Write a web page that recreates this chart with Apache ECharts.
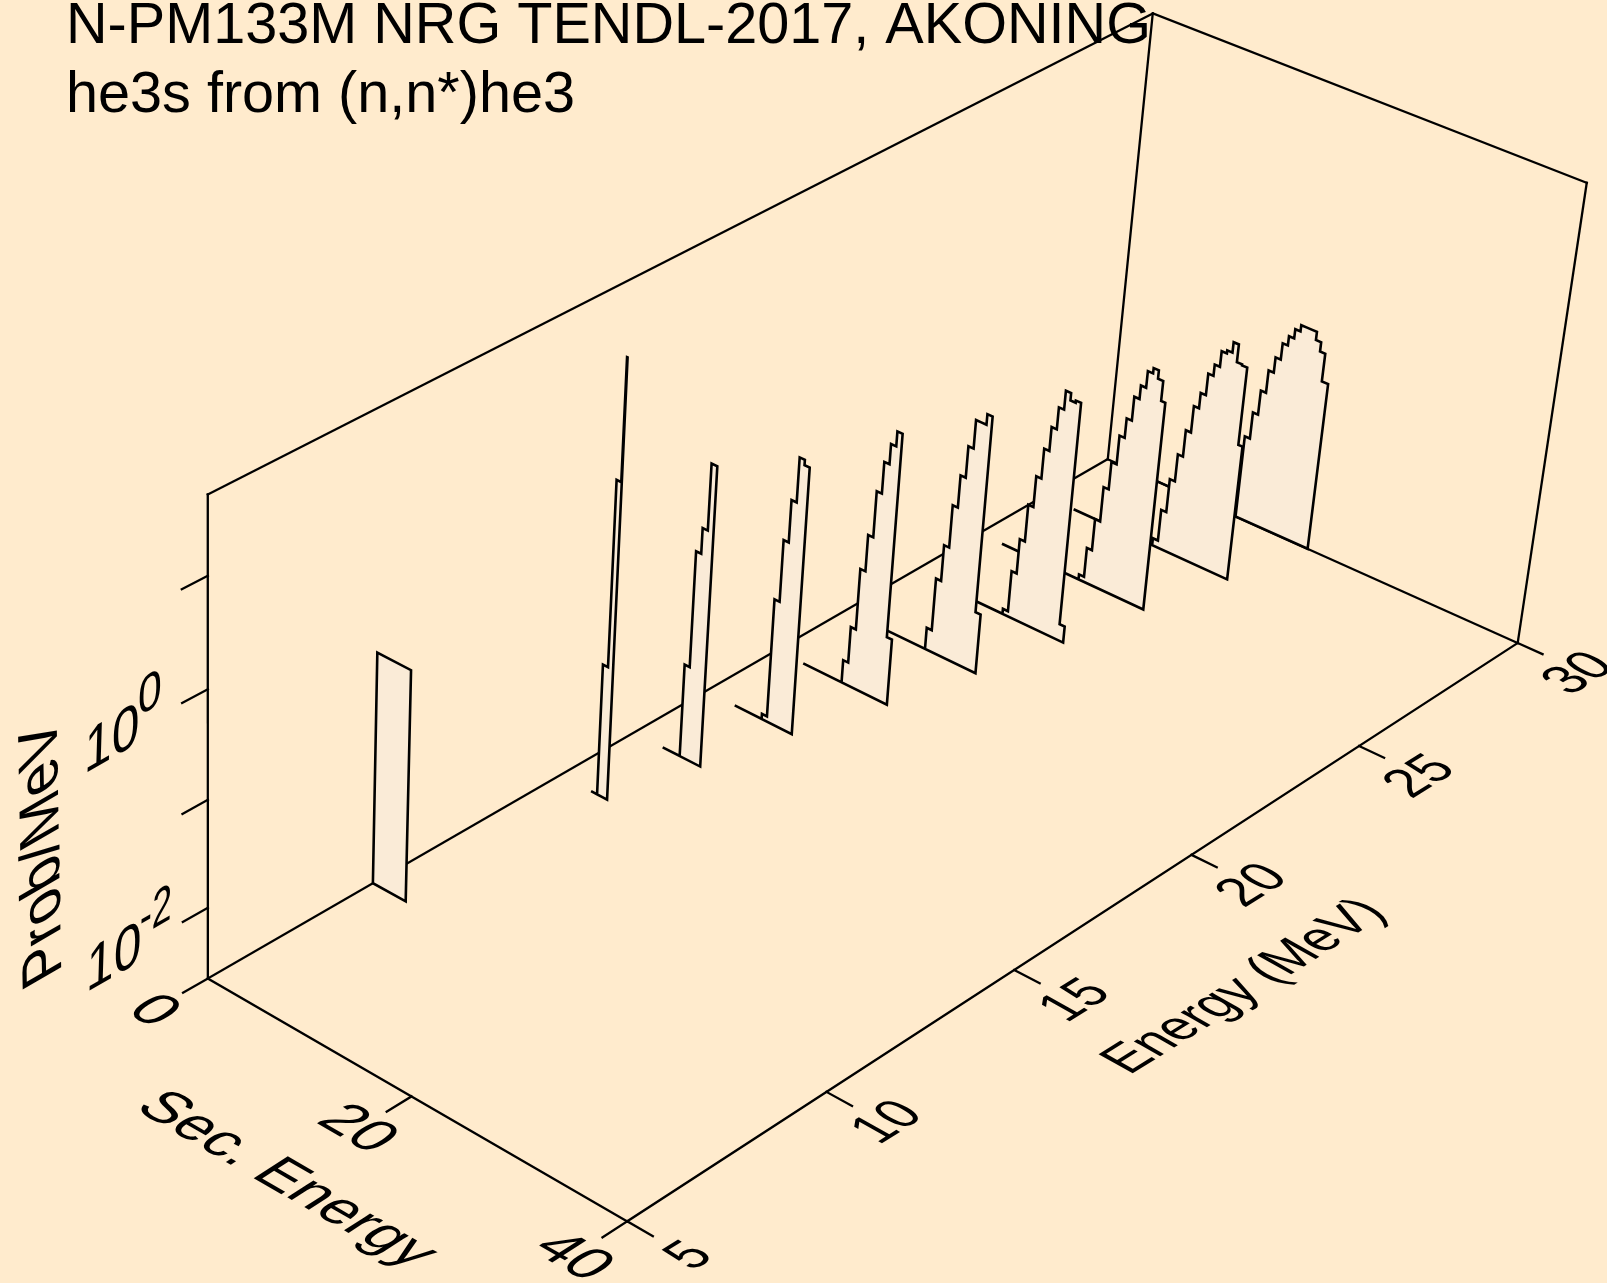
<!DOCTYPE html>
<html><head><meta charset="utf-8">
<script src="https://cdn.jsdelivr.net/npm/echarts@6/dist/echarts.min.js"></script>
<style>html,body{margin:0;padding:0;background:#FFEBCD}#c{width:1607px;height:1283px}</style>
</head><body><div id="c"></div><script>
// ---- data -------------------------------------------------------------
const titleLines = ['N-PM133M NRG TENDL-2017, AKONING', 'he3s from (n,n*)he3'];
const secTicks = [0, 20, 40];
const energyTicks = [5, 10, 15, 20, 25, 30];
const logProbTicks = [-2, -1, 0, 1];
const logProbLabels = [[-2, '10', '-2'], [0, '10', '0']];
const secRange = [0, 40], energyRange = [5, 30], logProbRange = [-2.67, 1.7];

// one spectrum per incident energy (MeV): sec.-energy bin edges and log10(prob/MeV)
const incidentEnergies = [30, 28, 26, 24, 22, 20, 18, 16, 14, 9.1];
const baselineStarts   = [ 3,  3, 2.3, 3, 2.7, 2.7, 2.9, 2.9, 3.1, 0];
const edgesE30 = [12.9,13.4,13.9,14.4,14.9,15.4,15.9,16.4,16.9,17.4,17.9,18.4,18.9,19.4,20];
const probE30  = [-1.86,-1.60,-1.36,-1.14,-0.99,-0.83,-0.74,-0.65,-0.59,-0.59,-0.59,-0.67,-0.76,-1.03];
const edgesE28 = [10.9,11.4,11.9,12.4,12.9,13.4,13.9,14.4,14.9,15.4,15.9,16.4,16.9,17.4,17.9,18.3];
const probE28  = [-2.60,-2.29,-1.96,-1.69,-1.43,-1.17,-1.02,-0.81,-0.70,-0.55,-0.52,-0.42,-0.59,-0.60,-1.35];
const edgesE26 = [10,10.5,11,11.5,12,12.5,13,13.5,14,14.5,15,15.5,16,16.4];
const probE26  = [-2.62,-2.33,-2.02,-1.68,-1.41,-1.13,-0.94,-0.71,-0.58,-0.42,-0.37,-0.45,-0.64];
const edgesE24 = [9,9.5,10,10.5,11,11.5,12,12.5,13,13.5,14,14.5,15];
const probE24  = [-2.62,-2.22,-1.88,-1.52,-1.22,-0.93,-0.70,-0.49,-0.31,-0.38,-0.36,-2.51];
const edgesE22 = [8,8.5,9,9.5,10,10.5,11,11.5,12,12.5,13];
const probE22  = [-2.46,-1.95,-1.60,-1.19,-0.88,-0.58,-0.31,-0.31,-0.21,-2.09];
const edgesE20 = [6.55,7.05,7.55,8.05,8.55,9.05,9.55,10.05,10.55,11.05];
const probE20  = [-2.45,-2.10,-1.51,-1.16,-0.72,-0.42,-0.23,-0.09,-2.03];
const edgesE18 = [5.6,6.1,6.6,7.1,7.6,8.1,8.6];
const probE18  = [-2.62,-1.48,-0.89,-0.49,-0.07,-0.12];
const edgesE16 = [4.6,5.1,5.6,6.1,6.65];
const probE16  = [-1.78,-0.68,-0.44,0.18];
const edgesE14 = [3.7,4.2,4.65,4.7];
const probE14  = [-1.42,0.32,1.44];
const edgesE9  = [0,3.3];
const probE9   = [-0.50];
const spectra = [[edgesE30,probE30],[edgesE28,probE28],[edgesE26,probE26],[edgesE24,probE24],[edgesE22,probE22],
                 [edgesE20,probE20],[edgesE18,probE18],[edgesE16,probE16],[edgesE14,probE14],[edgesE9,probE9]];

// ---- 3D -> plane projection (perspective camera of the plot) ------------
const cam = [0.38421,1.06025,-0.01143,0.20786, 0.17444,-0.45282,-0.51100,0.97846, -0.05603,0.14474,-0.05459];
const INK = '#000000', FILL = '#FAEBD7', FONT = '"Liberation Sans", Arial, Helvetica, sans-serif';
function proj(s, e, lp) {
  const u = (s - secRange[0]) / (secRange[1] - secRange[0]);
  const v = (e - energyRange[0]) / (energyRange[1] - energyRange[0]);
  const z = (lp - logProbRange[0]) / (logProbRange[1] - logProbRange[0]);
  const w = cam[8]*u + cam[9]*v + cam[10]*z + 1;
  return [(cam[0]*u + cam[1]*v + cam[2]*z + cam[3]) / w * 1000,
          (cam[4]*u + cam[5]*v + cam[6]*z + cam[7]) / w * 1000];
}
const [s0, s1] = secRange, [e0, e1] = energyRange, [z0, z1] = logProbRange;
const TICK_E = 0.6, TICK_S = 2.3;
const segments = [
  [[s0,e0,z0],[s0,e0,z1]], [[s0,e0,z1],[s0,e1,z1]], [[s0,e1,z1],[s1,e1,z1]], [[s1,e1,z1],[s1,e1,z0]],
  [[s0,e1,z1],[s0,e1,z0]], [[s0,e0,z0],[s0,e1,z0]], [[s0,e1,z0],[s1,e1,z0]],
  [[s0,e0,z0],[s1,e0,z0]], [[s1,e0,z0],[s1,e1,z0]],
];
secTicks.forEach(s => segments.push([[s,e0,z0],[s,e0-TICK_E,z0]]));
energyTicks.forEach(e => segments.push([[s1,e,z0],[s1+TICK_S,e,z0]]));
logProbTicks.forEach(l => segments.push([[s0,e0,l],[s0,e0-TICK_E,l]]));

// sheared text lying in the planes of the box: baseline dir, up dir, and em sizes along them
const FS = 50;
const DIR_SEC  = {b:[0.866,0.50], u:[0.84,-0.54], fb:59, fu:59};
const DIR_ENER = {b:[0.848,-0.53], u:[-0.87,-0.49], fb:49.5, fu:57};
const DIR_Z    = {b:[0.87,-0.50], u:[0.03,-1.00], fb:57, fu:62};
const DIR_ZLAB = {b:[-0.018,-1.00], u:[-0.86,0.50], fb:58, fu:65};
const labels = [];
secTicks.forEach(s => { const p = proj(s,e0,z0); labels.push({t:String(s), x:p[0]-55, y:p[1]+(s===40?36:33), d:DIR_SEC}); });
energyTicks.forEach(e => { const p = proj(s1,e,z0); labels.push({t:String(e), x:p[0]+(e===5?63:62), y:p[1]+(e===5?35:31), d:DIR_ENER}); });
logProbLabels.forEach(([l,base,sup]) => { const p = proj(s0,e0,l);
  const long = sup.length > 1;
  labels.push({t:base, x:p[0]-(long?94:96), y:p[1]+52, d:DIR_Z});
  labels.push({t:sup, x:p[0]-(long?52:58), y:p[1]+(long?5:6), d:{...DIR_Z, fb:DIR_Z.fb*(long?0.72:0.86), fu:DIR_Z.fu*0.86}});
});
labels.push({t:'Sec. Energy', x:286, y:1180, d:DIR_SEC});
labels.push({t:'Energy (MeV)', x:1245, y:987, d:DIR_ENER});
labels.push({t:'Prob/MeV', x:43.5, y:852, d:DIR_ZLAB});

function shearedText(pos, l) {
  const d = l.d, a = d.b[0]*d.fb/FS, b = -d.u[0]*d.fu/FS, c = d.b[1]*d.fb/FS, e = -d.u[1]*d.fu/FS;
  const E = (a+e)/2, F = (a-e)/2, G = (c+b)/2, H = (c-b)/2;
  const q = Math.hypot(E,H), r = Math.hypot(F,G), a1 = Math.atan2(G,F), a2 = Math.atan2(H,E);
  const theta = (a2-a1)/2, phi = (a2+a1)/2;
  return {type:'group', x:pos[0], y:pos[1], rotation:-phi, children:[
    {type:'group', scaleX:q+r, scaleY:q-r, children:[
      {type:'text', rotation:-theta, style:{text:l.t, x:0, y:0, fontSize:FS, fontFamily:FONT, fill:INK, align:'center', verticalAlign:'middle'}}
    ]}
  ]};
}

const chart = echarts.init(document.getElementById('c'), null, {renderer:'canvas', width:1607, height:1283});
const titleCommon = {left:66, textStyle:{fontFamily:FONT, fontSize:57.6, fontWeight:'normal', color:INK}, padding:0};
chart.setOption({
  animation:false, backgroundColor:'#FFEBCD',
  title:[{...titleCommon, text:titleLines[0], top:-2},{...titleCommon, text:titleLines[1], top:67}],
  grid:{left:0, right:0, top:0, bottom:0},
  xAxis:{type:'value', min:0, max:1607, show:false},
  yAxis:{type:'value', min:0, max:1283, inverse:true, show:false},
  series:[
    {type:'custom', coordinateSystem:'cartesian2d', silent:true, clip:false, z:2,
     data:segments.map((_,i)=>[i]),
     renderItem:(p,api)=>{ const [a,b]=segments[p.dataIndex]; const A=api.coord(proj(...a)), B=api.coord(proj(...b));
       return {type:'line', shape:{x1:A[0],y1:A[1],x2:B[0],y2:B[1]}, style:{stroke:INK, lineWidth:2.3, lineCap:'square'}}; }},
    {type:'custom', coordinateSystem:'cartesian2d', silent:true, clip:false, z:3,
     data:incidentEnergies.map((_,i)=>[i]),
     renderItem:(p,api)=>{ const i=p.dataIndex, E=incidentEnergies[i], [edges,vals]=spectra[i];
       const pts=[[baselineStarts[i],z0],[edges[0],z0]];
       vals.forEach((v,k)=>{pts.push([edges[k],v],[edges[k+1],v]);});
       pts.push([edges[edges.length-1],z0]);
       return {type:'polygon', shape:{points:pts.map(q=>api.coord(proj(q[0],E,q[1])))},
               style:{fill:FILL, stroke:INK, lineWidth:2.6, lineJoin:'miter'}}; }},
    {type:'custom', coordinateSystem:'cartesian2d', silent:true, clip:false, z:4,
     data:labels.map((_,i)=>[i]),
     renderItem:(p,api)=>{ const l=labels[p.dataIndex]; return shearedText(api.coord([l.x,l.y]), l); }}
  ]
});
</script></body></html>
